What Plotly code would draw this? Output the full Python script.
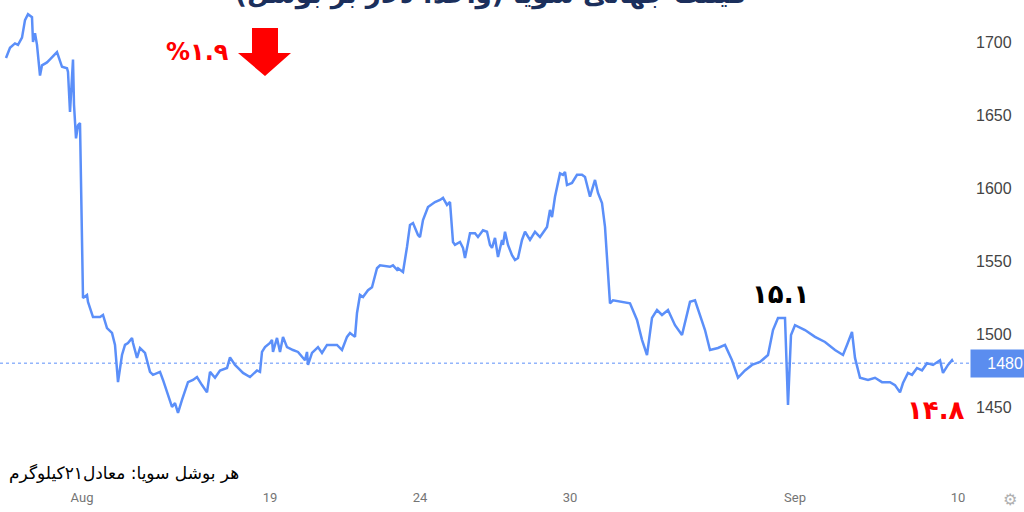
import plotly.graph_objects as go

# time axis (trading-time units) and soybean price
t = [0.6, 1.0, 1.5, 1.8, 2.2, 2.5, 2.8, 3.2, 3.3, 3.5, 3.7, 4.0, 4.2, 4.7, 5.0, 5.7, 6.2, 6.7, 6.8, 7.0,
     7.3, 7.4, 7.6, 7.8, 8.0, 8.2, 8.3, 8.7, 8.8, 9.3, 10.0, 10.3, 10.7, 11.2, 11.5, 11.8, 12.2, 12.5, 12.8, 13.2,
     13.3, 13.7, 14.0, 14.5, 15.0, 15.3, 16.0, 16.3, 16.8, 17.2, 17.5, 17.8, 18.2, 18.8, 19.3, 19.7, 20.2, 20.7, 21.0, 21.5,
     22.0, 22.7, 23.0, 23.5, 23.8, 24.3, 25.0, 25.7, 26.0, 26.2, 26.5, 27.0, 27.2, 27.3, 27.7, 28.0, 28.3, 28.7, 29.3, 29.8,
     30.5, 30.7, 30.8, 31.2, 31.8, 32.2, 32.7, 33.7, 34.2, 34.7, 35.0, 35.5, 35.7, 36.0, 36.3, 36.8, 37.2, 37.7, 38.0, 39.0,
     39.3, 39.7, 39.8, 40.3, 40.7, 41.0, 41.3, 41.8, 42.0, 42.3, 42.8, 43.5, 44.0, 44.3, 44.7, 45.0, 45.3, 45.5, 46.0, 46.3,
     46.5, 46.8, 47.0, 47.5, 47.8, 48.3, 48.7, 49.0, 49.2, 49.5, 49.8, 50.2, 50.3, 50.5, 50.8, 51.2, 51.5, 51.8, 52.2, 52.5,
     53.0, 53.5, 54.0, 54.7, 55.0, 55.2, 55.5, 56.0, 56.3, 56.5, 56.7, 57.2, 57.7, 58.2, 58.5, 59.0, 59.5, 59.8, 60.2, 60.5,
     61.0, 61.3, 62.0, 63.0, 63.7, 64.2, 64.7, 65.2, 65.7, 66.2, 66.8, 67.5, 68.2, 69.0, 69.5, 70.0, 70.5, 71.0, 71.8, 72.5,
     73.2, 73.8, 74.5, 75.2, 76.0, 76.8, 77.3, 77.8, 78.5, 78.8, 79.1, 79.5, 80.5, 81.5, 82.5, 83.5, 84.3, 84.7, 85.2, 85.5,
     86.0, 86.8, 87.5, 88.2, 89.0, 89.5, 90.0, 90.3, 90.8, 91.2, 91.7, 92.2, 92.7, 93.3, 94.0, 94.3, 94.8, 95.2, 95.3]
price = [1689, 1696, 1699, 1698, 1703, 1715, 1719, 1717, 1700, 1706, 1698, 1677, 1684, 1686, 1688, 1693, 1683, 1682, 1679.5, 1652,
         1688, 1657, 1634, 1643, 1644.5, 1542.5, 1524.7, 1526.7, 1522, 1511.6, 1511.6, 1513, 1504, 1500.7, 1492.5, 1467, 1485.6, 1492.5, 1493.8, 1497.3,
         1493.8, 1483.6, 1490.4, 1487, 1474, 1472, 1474, 1468.5, 1458, 1450, 1452.7, 1446, 1454.8, 1467, 1468.5, 1470.5, 1465, 1460, 1474, 1470,
         1475, 1476.7, 1484, 1478.8, 1476.7, 1473.3, 1470.5, 1475, 1474, 1487.7, 1491, 1493.8, 1496, 1487.7, 1497.3, 1487.7, 1498, 1491, 1489, 1487.7,
         1482, 1487.7, 1478.8, 1487, 1491, 1487, 1492.5, 1492.5, 1489, 1498, 1500.7, 1498, 1514.4, 1526.7, 1525.3, 1530, 1532, 1545, 1547, 1546,
         1547, 1544, 1545, 1542.5, 1559.6, 1574.7, 1576, 1567.8, 1566.4, 1578, 1587, 1590.4, 1591.8, 1593.2, 1588.4, 1590.4, 1563, 1561, 1563, 1559,
         1552, 1563, 1569, 1569, 1566.4, 1571, 1570, 1561, 1559, 1565.8, 1552.7, 1564.4, 1561, 1570, 1561, 1554, 1550.7, 1552, 1564.4, 1570,
         1564.4, 1570, 1566.4, 1573.3, 1585, 1580, 1594, 1610, 1609, 1611, 1602, 1603.4, 1609, 1609, 1607.5, 1594, 1605.5, 1596.6, 1589.7, 1573.3,
         1521, 1523, 1522, 1521, 1509.6, 1496, 1485.6, 1511, 1516.4, 1513, 1516.4, 1506, 1499.3, 1522, 1523, 1513, 1502.7, 1489, 1490.4, 1492.5,
         1482, 1470, 1475, 1478.8, 1480.8, 1485.6, 1502.7, 1511, 1511, 1451.4, 1499.3, 1506, 1502.7, 1498, 1494.5, 1489, 1485.6, 1492.5, 1501.4, 1483.6,
         1470, 1468.5, 1470, 1467, 1467, 1465, 1460, 1466.4, 1473.3, 1472, 1476.7, 1475, 1480, 1478.8, 1482, 1473.3, 1478.8, 1482, 1480.8]

x_tick_vals = [8.2, 27.0, 42.0, 57.0, 79.5, 95.8]
x_tick_text = ["Aug", "19", "24", "30", "Sep", "10"]
y_tick_vals = [1450, 1500, 1550, 1600, 1650, 1700]
last_price = 1480

W, H = 1024, 512
ML, MR, MT, MB = 0, 54, 10, 24
PW, PH = W - ML - MR, H - MT - MB


def px(x):
    return (x - ML) / PW


def py(y):
    return (H - MB - y) / PH


fig = go.Figure()
fig.add_trace(go.Scatter(x=t, y=price, mode="lines",
                         line=dict(color="#5b8ff9", width=2.5),
                         hoverinfo="skip", showlegend=False))

fig.add_hline(y=last_price, line=dict(color="#5b8ff9", width=1, dash="dot"))

arrow = [(252, 28), (278, 28), (278, 53), (291, 53), (265, 76), (238, 53), (252, 53)]
path = "M " + " L ".join(f"{px(a):.5f},{py(b):.5f}" for a, b in arrow) + " Z"
fig.add_shape(type="path", xref="paper", yref="paper", path=path,
              fillcolor="#ff0000", line=dict(width=0))

persian = "DejaVu Sans, Noto Sans, sans-serif"
anns = [
    dict(text="\u200fقیمت جهانی سویا (واحد: دلار بر بوشل)\u200f", x=px(490), y=py(-5),
         font=dict(size=26, color="#1b2f5c", family=persian), bold=True),
    dict(text="%۱.۹", x=px(197), y=py(52), font=dict(size=24, color="#ff0000", family=persian), bold=True),
    dict(text="۱۵.۱", x=px(780), y=py(294), font=dict(size=26, color="#000000", family=persian), bold=True),
    dict(text="۱۴.۸", x=px(936), y=py(410), font=dict(size=26, color="#ff0000", family=persian), bold=True),
    dict(text="هر بوشل سویا: معادل۲۱کیلوگرم", x=px(124), y=py(473),
         font=dict(size=17, color="#000000", family=persian), bold=False),
    dict(text="⚙", x=px(1010), y=py(499), font=dict(size=16, color="#b0b0b0", family="DejaVu Sans"), bold=False),
]
for a in anns:
    txt = "<b>" + a["text"] + "</b>" if a["bold"] else a["text"]
    fig.add_annotation(text=txt, x=a["x"], y=a["y"], xref="paper", yref="paper",
                       showarrow=False, font=a["font"], xanchor="center", yanchor="middle")

fig.add_annotation(text=str(last_price), x=1, xref="paper", y=last_price, yref="y",
                   xanchor="left", yanchor="middle", showarrow=False,
                   bgcolor="#5b8def", font=dict(color="white", size=16, family="Liberation Sans, Arial"),
                   width=50, height=23, align="right", borderpad=2)

fig.update_layout(
    width=W, height=H,
    margin=dict(l=ML, r=MR, t=MT, b=MB),
    paper_bgcolor="white", plot_bgcolor="white",
    xaxis=dict(range=[0, 97.0], tickvals=x_tick_vals, ticktext=x_tick_text,
               showgrid=False, zeroline=False, showline=False, ticks="",
               tickfont=dict(family="Liberation Sans Narrow, Roboto, sans-serif", size=13, color="#757575")),
    yaxis=dict(range=[1394.5, 1721.9], side="right", tickvals=y_tick_vals,
               showgrid=False, zeroline=False, showline=False, ticks="",
               tickfont=dict(family="Liberation Sans, Arial, sans-serif", size=16, color="#444444"),
               ticklabelstandoff=5),
)

fig.write_html("out.html", config={"displayModeBar": False},
               post_script="document.body.style.margin='0';document.body.style.overflow='hidden';")
